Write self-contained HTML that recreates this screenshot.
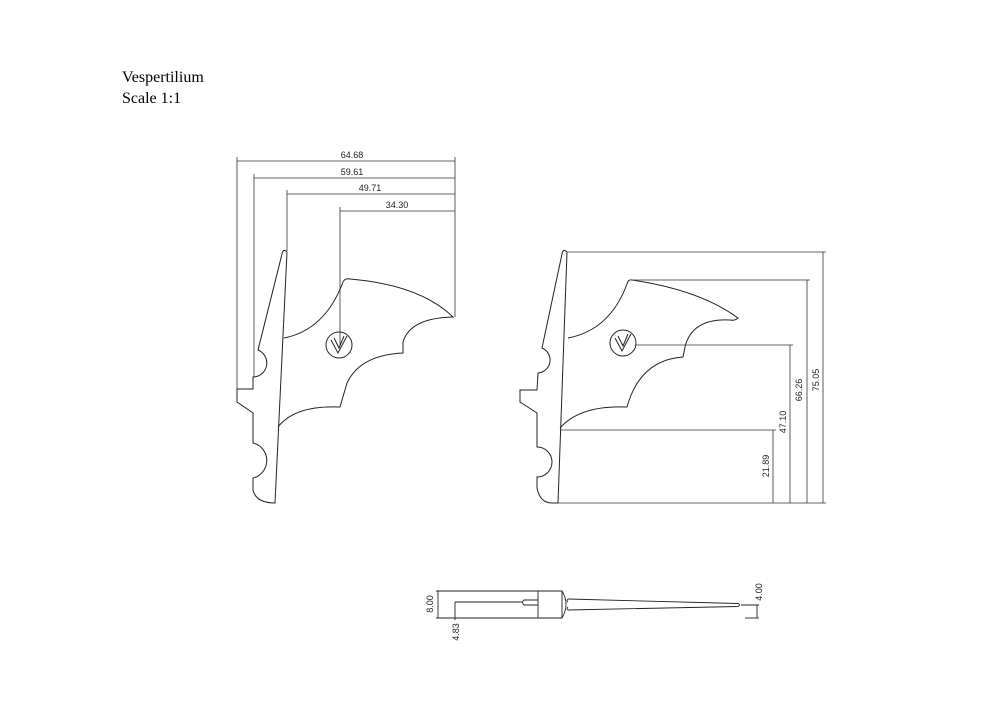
<!DOCTYPE html>
<html><head><style>body{margin:0;background:#fff}svg{display:block}</style></head><body>
<svg width="1000" height="707" viewBox="0 0 1000 707" xmlns="http://www.w3.org/2000/svg">
<rect width="1000" height="707" fill="#fff"/>
<text x="122" y="82" font-family="Liberation Serif, serif" font-size="16">Vespertilium</text>
<text x="122" y="103" font-family="Liberation Serif, serif" font-size="16">Scale 1:1</text>
<g fill="none" stroke="#333" stroke-width="0.8">
<line x1="237" y1="161" x2="455" y2="161"/><line x1="254" y1="178" x2="455" y2="178"/>
<line x1="287" y1="194" x2="455" y2="194"/><line x1="340" y1="211" x2="455" y2="211"/>
<line x1="237" y1="157" x2="237" y2="389"/><line x1="254" y1="174" x2="254" y2="377"/>
<line x1="287" y1="190" x2="287" y2="251"/><line x1="340" y1="207" x2="340" y2="345"/>
<line x1="455" y1="157" x2="455" y2="317"/>
</g>
<g font-family="Liberation Sans, sans-serif" font-size="9" fill="#222" text-anchor="middle">
<text x="352" y="158">64.68</text><text x="352" y="175">59.61</text>
<text x="370" y="191">49.71</text><text x="397" y="208">34.30</text>
</g>
<g fill="none" stroke="#222" stroke-width="1">
<path d="M287,252 Q283,248 282,254 L258,350 A14,14 0 0 1 253,377 L253,389 L237,389 L237,402 L253,413 L253,443 A18,18 0 0 1 253,478 L253,490 Q256,503 275,503 L287,252"/>
<path d="M284,338 Q325,330 343,282 Q345,278 350,279 Q420,285 453,317 Q410,318 403,342 L403,353 Q360,355 347,383 L340,407 Q295,405 278,427"/>
<circle cx="339" cy="345" r="13"/>
<path d="M331,340 L338,353 L347,336 M334,338 L339,348 L344,336"/>
<path d="M567,252 Q563,248 562,254 L542,348 A13,13 0 0 1 538,373 L537,390 L520,390 L520,402 L537,413 L537,447 A15,15 0 0 1 537,477 L537,488 Q540,503 552,503 L558,503 L567,252"/>
<path d="M568,338 Q610,330 627,284 Q628,279 632,280 Q700,290 738,318 Q735,321 730,320 Q692,318 685,347 L683,357 Q640,360 627,407 Q580,405 560,428"/>
<circle cx="623" cy="343" r="13"/>
<path d="M615,338 L622,351 L631,334 M618,336 L623,346 L628,334"/>
</g>
<g fill="none" stroke="#333" stroke-width="0.8">
<line x1="567" y1="252" x2="826" y2="252"/><line x1="558" y1="503" x2="826" y2="503"/>
<line x1="823" y1="252" x2="823" y2="503"/>
<line x1="632" y1="280" x2="810" y2="280"/><line x1="807" y1="280" x2="807" y2="503"/>
<line x1="636" y1="345" x2="793" y2="345"/><line x1="790" y1="345" x2="790" y2="503"/>
<line x1="560" y1="430" x2="776" y2="430"/><line x1="773" y1="430" x2="773" y2="503"/>
</g>
<g font-family="Liberation Sans, sans-serif" font-size="9" fill="#222" text-anchor="middle">
<text transform="translate(819,380) rotate(-90)">75.05</text>
<text transform="translate(802,390) rotate(-90)">66.26</text>
<text transform="translate(786,422) rotate(-90)">47.10</text>
<text transform="translate(769,466) rotate(-90)">21.89</text>
<text transform="translate(433,604) rotate(-90)">8.00</text>
<text transform="translate(459,632) rotate(-90)">4.83</text>
<text transform="translate(762,592) rotate(-90)">4.00</text>
</g>
<g fill="none" stroke="#222" stroke-width="0.9">
<line x1="436" y1="591" x2="540" y2="591"/><line x1="436" y1="618" x2="540" y2="618"/>
<line x1="438" y1="591" x2="438" y2="618"/>
<line x1="455" y1="602" x2="522" y2="602"/><line x1="455" y1="602" x2="455" y2="620"/>
<path d="M538,600 L524,600 Q521,602.5 524,605 L538,605"/>
<path d="M538,591 L562,591 Q570,604 562,618 L538,618 Z"/>
<line x1="562" y1="591" x2="562" y2="618"/>
<path d="M568,599 L738,603.5 Q741,605 738,606.5 L568,610"/>
<path d="M568,599 Q566,600 568,602 M568,607 Q566,609 568,610"/>
<line x1="745" y1="618" x2="759" y2="618"/><line x1="757" y1="605" x2="757" y2="618"/>
<line x1="741" y1="605" x2="759" y2="605"/>
</g>
</svg>
</body></html>
